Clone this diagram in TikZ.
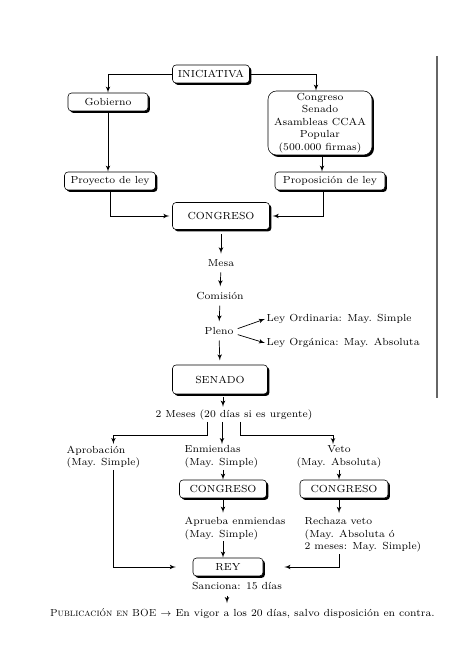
\documentclass[tikz,border=0pt]{standalone}
\usepackage{tikz}
\usetikzlibrary{shadows,arrows}
\tikzstyle{caja}=[draw, fill=white, rounded corners=2.5pt, align=center,
  inner sep=1pt, minimum height=0.45cm,
  drop shadow={shadow xshift=1.4pt, shadow yshift=-1.4pt, fill=black, opacity=1}]
\tikzstyle{texto} = [align=center, inner sep=1pt]
\tikzstyle{textoizq} = [align=left, inner sep=1pt, anchor=west]
\tikzstyle{line} = [draw, line width=0.5pt, -latex']
\tikzstyle{flecha} = [line, shorten <=3pt, shorten >=3pt]
\newcommand{\caja}[3]{node (#1) [caja, minimum width=#2] {#3}}

\begin{document}
\begin{tikzpicture}[font=\fontsize{7.3}{9}\selectfont]
\useasboundingbox (0,0) rectangle (11.85,16.75);

  % Draw diagram elements
\path (5.275,14.9) \caja{ini}{1.925cm}{INICIATIVA};
\path (2.7,14.2) \caja{gob}{2.0cm}{Gobierno};
\path (8.0,13.675) node (cc) [caja, minimum width=2.6cm, minimum height=1.6cm,
  rounded corners=6pt] {Congreso\\Senado\\Asambleas CCAA\\Popular\\(500.000 firmas)};
\path (2.75,12.225) \caja{proy}{2.275cm}{Proyecto de ley};
\path (8.25,12.225) \caja{prop}{2.75cm}{Proposición de ley};
\path (5.525,11.35) node (cong) [caja, minimum width=2.425cm, minimum height=0.675cm] {CONGRESO};

\path (5.525,10.175) node (mesa) [texto] {Mesa};
\path (5.5,9.35) node (comi) [texto] {Comisión};
\path (5.475,8.475) node (pleno) [texto] {Pleno};
\path (6.625,8.775) node (ord) [textoizq] {Ley Ordinaria: May. Simple};
\path (6.625,8.175) node (org) [textoizq] {Ley Orgánica: May. Absoluta};
\path (5.5,7.2625) node (senado) [caja, minimum width=2.375cm, minimum height=0.725cm] {SENADO};
\path (5.85,6.375) node (meses) [texto] {2 Meses (20 días si es urgente)};

\path (1.625,5.325) node (apro) [textoizq] {Aprobación\\(May. Simple)};
\path (4.575,5.325) node (enm) [textoizq] {Enmiendas\\(May. Simple)};
\path (8.475,5.325) node (veto) [texto] {Veto\\(May. Absoluta)};
\path (5.575,4.525) \caja{c2}{2.175cm}{CONGRESO};
\path (8.6,4.525) \caja{c3}{2.2cm}{CONGRESO};
\path (4.575,3.5375) node (apr) [textoizq] {Aprueba enmiendas\\(May. Simple)};
\path (7.575,3.375) node (rech) [textoizq] {Rechaza veto\\(May. Absoluta ó\\2 meses: May. Simple)};
\path (5.7,2.575) \caja{rey}{1.75cm}{REY};
\path (5.925,2.1) node (sanc) [texto] {Sanciona: 15 días};
\path (6.06,1.4) node (pub) [texto] {\textsc{Publicación en BOE} $\rightarrow$ En vigor a los 20 días, salvo disposición en contra.};

  % Draw arrows between elements
\path [line] (ini.west) -| (gob.north);
\path [line] (ini.east) -| ([xshift=-0.1cm]cc.north);
\path [line] (gob.south) -- (gob.south |- proy.north);
\path [line] ([xshift=0.05cm]cc.south) -- ([xshift=0.05cm]cc.south |- prop.north);
\path [line, shorten >=2pt] (proy.south) |- (cong.west);
\path [line, shorten >=2pt] ([xshift=-0.175cm]prop.south) |- (cong.east);

\path [flecha] (cong.south) -- (mesa.north);
\path [flecha] (mesa.south) -- (comi.north);
\path [flecha] (comi.south) -- (pleno.north);
\path [line, shorten <=2pt] ([yshift=1pt]pleno.east) -- (ord.west);
\path [line, shorten <=2pt] ([yshift=-2pt]pleno.east) -- (org.west);
\path [flecha] (pleno.south) -- (senado.north);
\path [line, shorten <=2pt, shorten >=1pt] ([xshift=0.075cm]senado.south) -- ([xshift=0.075cm]senado.south |- meses.north);

\path [line] ([xshift=-0.675cm]meses.south) -- ++(0,-0.35) -| ([xshift=0.25cm]apro.north);
\path [line] ([xshift=-0.3cm]meses.south) -- ([xshift=-0.3cm]meses.south |- enm.north);
\path [line] ([xshift=0.15cm]meses.south) -- ++(0,-0.35) -| ([xshift=-0.15cm]veto.north);

\path [line] (c2.north |- enm.south) -- (c2.north);
\path [line] (veto.south) -- (veto.south |- c3.north);
\path [line, shorten >=2pt] (c2.south) -- (c2.south |- apr.north);
\path [line, shorten >=2pt] (veto.south |- c3.south) -- (veto.south |- rech.north);
\path [line] (c2.south |- apr.south) -- (c2.south |- rey.north);
\path [line, shorten >=12pt] ([xshift=0.25cm]apro.south) |- (rey.west);
\path [line, shorten >=15pt] (veto.south |- rech.south) |- (rey.east);
\path [flecha] ([xshift=-0.25cm]sanc.south) -- ([xshift=-0.25cm]sanc.south |- pub.north);

  % Page edge
\coordinate (borde1) at (10.925,15.35);
\coordinate (borde2) at (10.925,6.8);
\draw [black!60, line width=1.4pt] (borde1) -- (borde2);
\end{tikzpicture}
\end{document}
